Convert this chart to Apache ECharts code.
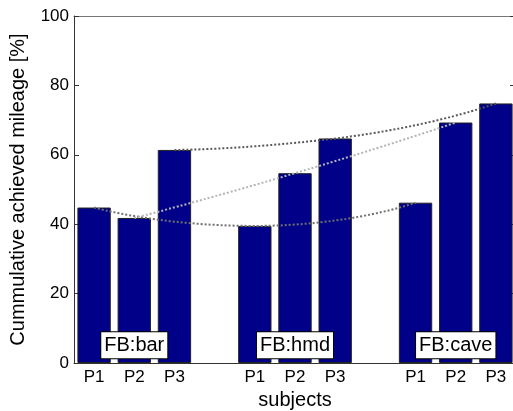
<!DOCTYPE html>
<html><head><meta charset="utf-8">
<script src="https://cdn.jsdelivr.net/npm/echarts@6/dist/echarts.min.js"></script>
<style>html,body{margin:0;padding:0;background:#fff}#c{width:513px;height:411px}</style>
</head><body><div id="c"></div>
<script>
const groups = ['FB:bar', 'FB:hmd', 'FB:cave'];
const subjects = ['P1', 'P2', 'P3'];
const barValues = [
  [44.8, 41.8, 61.4],
  [39.5, 54.7, 64.7],
  [46.2, 69.3, 74.8]
];
const yTicks = [0, 20, 40, 60, 80, 100];
const groupLabelY = 5.1;

const categories = [];
const barData = [];
const lineData = subjects.map(() => []);
const labelData = [];
groups.forEach((g, gi) => {
  subjects.forEach((s, si) => {
    categories.push(s);
    barData.push(barValues[gi][si]);
    subjects.forEach((_, k) => lineData[k].push(k === si ? barValues[gi][si] : '-'));
    labelData.push(si === 1 ? { value: groupLabelY, name: g } : '-');
  });
  if (gi < groups.length - 1) {
    categories.push('');
    barData.push('-');
    lineData.forEach(a => a.push('-'));
    labelData.push('-');
  }
});

const FONT = 'Liberation Sans';
const axisCol = '#333';
const lineColors = ['#707070', '#b4b4b4', '#5a5a5a'];

const chart = echarts.init(document.getElementById('c'), null, { renderer: 'canvas' });
chart.setOption({
  backgroundColor: '#fff',
  animation: false,
  grid: { left: 74, right: -3, top: 16, bottom: 48, containLabel: false, outerBoundsMode: 'none' },
  xAxis: [{
    type: 'category', data: categories, position: 'bottom',
    name: 'subjects', nameLocation: 'middle', nameGap: 27,
    nameTextStyle: { fontFamily: FONT, fontSize: 20, color: '#000' },
    axisLine: { onZero: false, lineStyle: { color: axisCol, width: 1 } },
    axisTick: { inside: true, alignWithLabel: true, interval: 0, length: 5, lineStyle: { color: axisCol } },
    axisLabel: { interval: 0, fontFamily: FONT, fontSize: 17, color: '#000', margin: 6 },
    splitLine: { show: false }
  }, {
    type: 'category', data: categories, position: 'top',
    axisLine: { onZero: false, lineStyle: { color: '#777', width: 1 } },
    axisTick: { inside: true, alignWithLabel: true, interval: 0, length: 5, lineStyle: { color: axisCol } },
    axisLabel: { show: false },
    splitLine: { show: false }
  }],
  yAxis: [{
    type: 'value', min: 0, max: 100, interval: 20, position: 'left',
    name: 'Cummulative achieved mileage [%]', nameLocation: 'middle', nameGap: 46,
    nameTextStyle: { fontFamily: FONT, fontSize: 20, color: '#000' },
    axisLine: { show: true, onZero: false, lineStyle: { color: axisCol, width: 1 } },
    axisTick: { show: true, inside: true, length: 5, lineStyle: { color: axisCol } },
    axisLabel: { fontFamily: FONT, fontSize: 17, color: '#000', margin: 5 },
    splitLine: { show: false }
  }, {
    type: 'value', min: 0, max: 100, interval: 20, position: 'right',
    axisLine: { show: true, onZero: false, lineStyle: { color: axisCol, width: 1 } },
    axisTick: { show: true, inside: true, length: 6, lineStyle: { color: axisCol } },
    axisLabel: { show: false },
    splitLine: { show: false }
  }],
  series: [
    {
      type: 'bar', data: barData, barWidth: '83%',
      itemStyle: { color: '#000088', borderColor: '#222', borderWidth: 1 },
      z: 2
    },
    ...lineData.map((d, k) => ({
      type: 'line', data: d, connectNulls: true, smooth: 0.6, symbol: 'none',
      lineStyle: { color: lineColors[k], width: 2, type: [2, 2] },
      z: 3
    })),
    {
      type: 'scatter', data: labelData, symbolSize: 0, z: 5,
      itemStyle: { opacity: 1 },
      label: {
        show: true, position: 'inside', formatter: p => p.name,
        fontFamily: FONT, fontSize: 20, color: '#000',
        backgroundColor: '#fff', borderColor: '#000', borderWidth: 1,
        padding: [4, 3, 2, 3]
      }
    }
  ]
});
</script></body></html>
